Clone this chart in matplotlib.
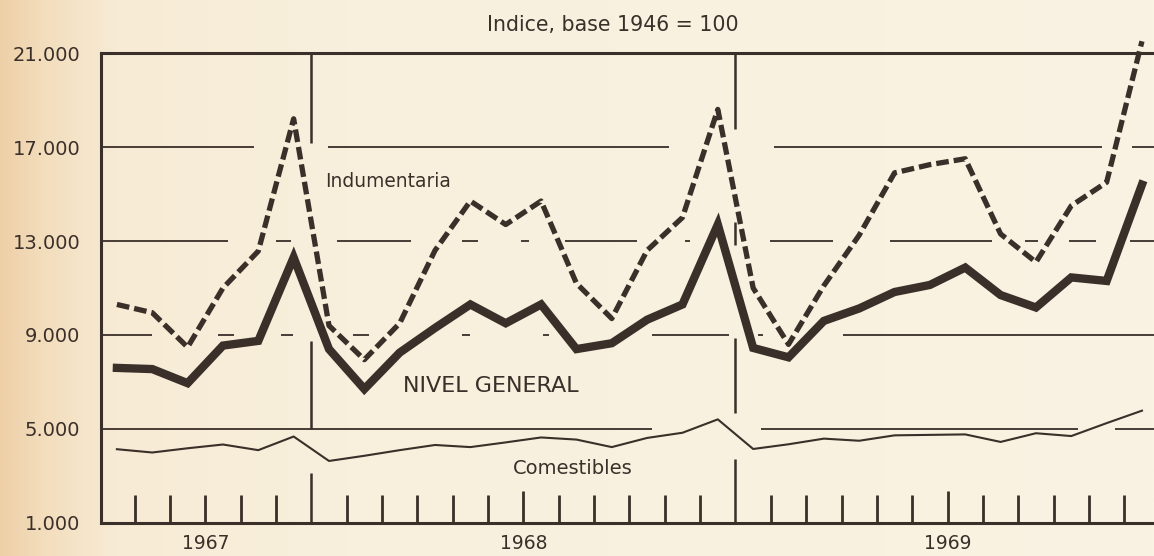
"""Indices de precios 1967-1969: nivel general, indumentaria y comestibles."""
import matplotlib
matplotlib.use("Agg")
import matplotlib.pyplot as plt
import numpy as np
import pandas as pd

# meses julio 1967 - diciembre 1969
meses = pd.period_range("1967-07", "1969-12", freq="M")

nivel_general = [7600, 7550, 6950, 8550, 8750, 12300,
                 8400, 6700, 8250, 9300, 10300, 9500, 10300, 8400, 8650, 9650, 10300, 13700,
                 8450, 8050, 9600, 10130, 10830, 11130, 11870, 10700, 10170, 11450, 11300, 15400]
indumentaria = [10300, 9950, 8480, 11000, 12570, 18200,
                9400, 7950, 9500, 12600, 14700, 13700, 14700, 11200, 9700, 12600, 14000, 18600,
                11000, 8600, 11100, 13250, 15900, 16250, 16500, 13300, 12100, 14500, 15500, 21500]
comestibles = [4140, 4000, 4180, 4340, 4100, 4680,
               3640, 3860, 4100, 4320, 4230, 4430, 4640, 4550, 4230, 4620, 4840, 5410,
               4150, 4350, 4590, 4500, 4730, 4750, 4770, 4450, 4820, 4700, 5250, 5780]

anios = ["1967", "1968", "1969"]
y_ticks = [1000, 5000, 9000, 13000, 17000, 21000]

INK = "#3a2f29"
FONT = "DejaVu Sans"

# tramos visibles de las lineas horizontales (en meses desde jul-1967)
GRID_SEGMENTS = {
    17000: [(0.05, 4.38), (6.47, 16.12), (19.09, 28.38), (29.22, 29.9)],
    13000: [(0.05, 3.64), (5.0, 5.42), (6.73, 8.82), (10.26, 10.71), (11.93, 12.16),
            (13.18, 15.21), (16.57, 16.71), (18.98, 20.76), (22.37, 25.26),
            (26.19, 26.56), (27.44, 28.2), (29.17, 29.9)],
    9000: [(0.05, 1.49), (3.36, 3.81), (5.14, 5.48), (7.18, 7.63), (10.26, 10.49),
           (12.56, 12.73), (15.64, 17.82), (18.64, 18.78), (21.04, 29.9)],
    5000: [(0.05, 15.64), (18.72, 27.69), (28.74, 29.9)],
}
# separadores de año: tramos verticales
SEPARATORS = {
    6: [(17150, 21000), (5000, 8750), (1000, 3140)],
    18: [(17780, 21000), (12850, 13800), (5660, 8870), (1000, 3730)],
}


def main() -> None:
    fig = plt.figure(figsize=(11.54, 5.56), dpi=100)

    # fondo de papel con borde izquierdo mas oscuro
    bg = fig.add_axes([0, 0, 1, 1], zorder=-5)
    xs = np.linspace(0, 1, 600)
    stops = [0.0, 0.04, 0.10, 0.3, 1.0]
    cols = np.array([[238, 208, 168], [243, 222, 190], [247, 235, 213],
                     [248, 240, 221], [250, 243, 227]]) / 255.0
    grad = np.stack([np.interp(xs, stops, cols[:, k]) for k in range(3)], axis=-1)
    bg.imshow(grad[None, :, :], aspect="auto", extent=(0, 1, 0, 1))
    bg.axis("off")

    ax = fig.add_axes([101 / 1154, 33 / 556, 1 - 101 / 1154, 470 / 556])
    ax.set_facecolor("none")
    x = np.arange(len(meses)) + 0.5

    for level, segs in GRID_SEGMENTS.items():
        for a, b in segs:
            ax.plot([a, b], [level, level], color=INK, lw=1.3, zorder=1,
                    solid_capstyle="butt", clip_on=False)
    for m, segs in SEPARATORS.items():
        for a, b in segs:
            ax.plot([m, m], [a, b], color=INK, lw=1.8, zorder=1,
                    solid_capstyle="butt")

    ax.plot(x, comestibles, color=INK, lw=1.5, zorder=3)
    ax.plot(x, indumentaria, color=INK, lw=3.8, linestyle=(0, (2.4, 0.95)),
            zorder=3, clip_on=False)
    ax.plot(x, nivel_general, color=INK, lw=6.0, zorder=4,
            solid_joinstyle="miter")

    ax.set_xlim(0.05, 29.84)
    ax.set_ylim(1000, 21000)
    ax.set_yticks(y_ticks)
    ax.set_yticklabels([f"{v:,}".replace(",", ".") for v in y_ticks],
                       fontsize=14, color=INK, family=FONT)
    ax.tick_params(axis="y", length=0, pad=15)

    ticks = [m for m in range(1, 30) if m not in (6, 18, 12, 24)]
    ax.set_xticks(ticks)
    ax.set_xticks([12, 24], minor=True)
    ax.tick_params(axis="x", which="major", direction="in", length=20, width=2,
                   color=INK, labelbottom=False)
    ax.tick_params(axis="x", which="minor", direction="in", length=23, width=2,
                   color=INK, labelbottom=False)

    for side in ("left", "bottom", "top"):
        ax.spines[side].set_linewidth(2.2)
        ax.spines[side].set_color(INK)
    ax.spines["right"].set_visible(False)

    for label, pos in zip(anios, [3.0, 12.0, 24.0]):
        ax.text(pos, -0.043, label, transform=ax.get_xaxis_transform(),
                ha="center", va="center", fontsize=13.5, color=INK, family=FONT)

    ax.text(6.39, 15550, "Indumentaria", ha="left", va="center",
            fontsize=13.4, color=INK, family=FONT)
    ax.text(8.59, 6850, "NIVEL GENERAL", ha="left", va="center",
            fontsize=16, color=INK, family=FONT)
    ax.text(11.7, 3300, "Comestibles", ha="left", va="center",
            fontsize=14, color=INK, family=FONT)

    fig.text(613 / 1154, 1 - 25 / 556, "Indice, base 1946 = 100", ha="center",
             va="center", fontsize=14.8, color=INK, family=FONT)

    fig.savefig("out.png", dpi=100)
    plt.close(fig)


if __name__ == "__main__":
    main()
